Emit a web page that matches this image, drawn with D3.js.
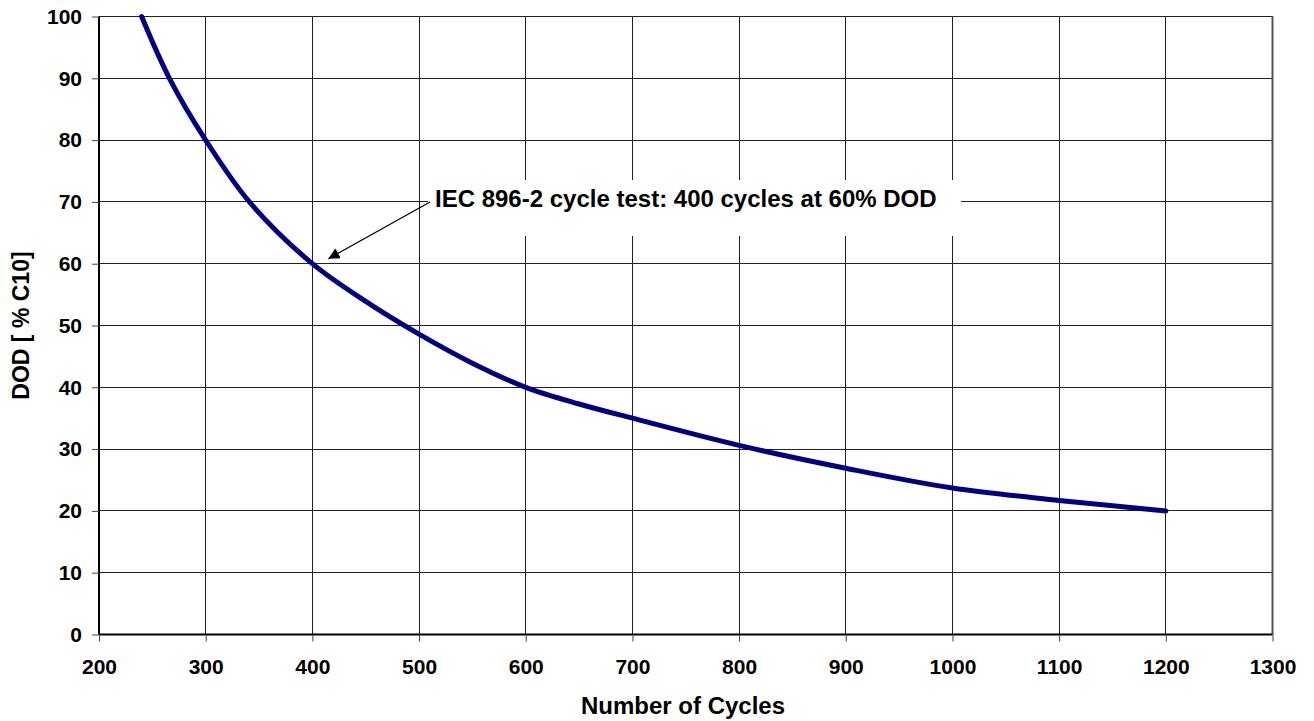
<!DOCTYPE html>
<html><head><meta charset="utf-8">
<script src="https://cdn.jsdelivr.net/npm/d3@7"></script>
<style>body{margin:0;background:#fff}svg{display:block}</style>
</head><body>
<script>
const cycles = [240, 266, 300, 341, 400, 450, 500, 550, 600, 650, 700, 800, 900, 1000, 1100, 1200];
const dod    = [100, 90, 80, 70, 60, 53.9, 48.6, 43.9, 40.0, 37.3, 35.0, 30.6, 26.9, 23.7, 21.7, 20];
const xTicks = [200, 300, 400, 500, 600, 700, 800, 900, 1000, 1100, 1200, 1300];
const yTicks = [0, 10, 20, 30, 40, 50, 60, 70, 80, 90, 100];
const annotation = "IEC 896-2 cycle test: 400 cycles at 60% DOD";
const annPoint = [400, 60];

const W = 1314, H = 721;
const m = {l: 99, r: 1272.5, t: 16.5, b: 634.5};
const svg = d3.select("body").append("svg").attr("width", W).attr("height", H);
const x = d3.scaleLinear().domain([200, 1300]).range([m.l, m.r]);
const y = d3.scaleLinear().domain([0, 100]).range([m.b, m.t]);
const font = "'Liberation Sans', Arial, sans-serif";

// grid
svg.append("g").selectAll("line").data(yTicks.slice(1)).join("line")
  .attr("x1", m.l).attr("x2", m.r).attr("y1", d => y(d)).attr("y2", d => y(d))
  .attr("stroke", "#222").attr("stroke-width", 1).attr("shape-rendering", "crispEdges");
svg.append("g").selectAll("line").data(xTicks.slice(1, -1)).join("line")
  .attr("y1", m.t).attr("y2", m.b).attr("x1", d => x(d)).attr("x2", d => x(d))
  .attr("stroke", "#222").attr("stroke-width", 1).attr("shape-rendering", "crispEdges");
// right border
svg.append("line").attr("x1", m.r).attr("x2", m.r).attr("y1", m.t).attr("y2", m.b)
  .attr("stroke", "#555").attr("stroke-width", 2);

// axes
const xAxis = d3.axisBottom(x).tickValues(xTicks).tickSize(7).tickPadding(18).tickFormat(d3.format("d"));
const gx = svg.append("g").attr("transform", `translate(0,${m.b})`).call(xAxis);
gx.select(".domain").attr("stroke", "#000").attr("stroke-width", 2).attr("d", `M${m.l},0H${m.r}`);
gx.selectAll(".tick line").attr("stroke", "#444");
gx.selectAll("text").attr("font-family", font).attr("font-weight", "bold").attr("font-size", 21).attr("fill", "#000");

const yAxis = d3.axisLeft(y).tickValues(yTicks).tickSize(7).tickPadding(10);
const gy = svg.append("g").attr("transform", `translate(${m.l},0)`).call(yAxis);
gy.select(".domain").attr("stroke", "#000").attr("stroke-width", 2).attr("d", `M0,${m.t}V${m.b}`);
gy.selectAll(".tick line").attr("stroke", "#444");
gy.selectAll("text").attr("font-family", font).attr("font-weight", "bold").attr("font-size", 21).attr("fill", "#000");

// curve
const pts = cycles.map((c, i) => [c, dod[i]]);
svg.append("path").datum(pts)
  .attr("d", d3.line().x(d => x(d[0])).y(d => y(d[1])).curve(d3.curveCatmullRom.alpha(0.5)))
  .attr("fill", "none").attr("stroke", "#000080").attr("stroke-width", 5).attr("stroke-linecap", "round");

// annotation box
svg.append("rect").attr("x", 428).attr("y", 180).attr("width", 533).attr("height", 56).attr("fill", "#fff");
svg.append("text").attr("x", 435).attr("y", 207).attr("font-family", font).attr("font-weight", "bold")
  .attr("font-size", 24).text(annotation);
// arrow
svg.append("defs").append("marker").attr("id", "ah").attr("viewBox", "0 0 10 10")
  .attr("refX", 10).attr("refY", 5).attr("markerWidth", 14).attr("markerHeight", 11)
  .attr("markerUnits", "userSpaceOnUse").attr("orient", "auto")
  .append("path").attr("d", "M0,0L10,5L0,10Z").attr("fill", "#000");
const ax0 = 430, ay0 = 202;
const ax1 = x(annPoint[0]) + 16, ay1 = y(annPoint[1]) - 5;
svg.append("line").attr("x1", ax0).attr("y1", ay0).attr("x2", ax1).attr("y2", ay1)
  .attr("stroke", "#000").attr("stroke-width", 1.2).attr("marker-end", "url(#ah)");

// axis titles
svg.append("text").attr("x", 683).attr("y", 714).attr("text-anchor", "middle")
  .attr("font-family", font).attr("font-weight", "bold").attr("font-size", 24).text("Number of Cycles");
svg.append("text").attr("transform", `translate(29,${(m.t + m.b) / 2}) rotate(-90)`).attr("text-anchor", "middle")
  .attr("font-family", font).attr("font-weight", "bold").attr("font-size", 23).text("DOD [ % C10]");
</script>
</body></html>
